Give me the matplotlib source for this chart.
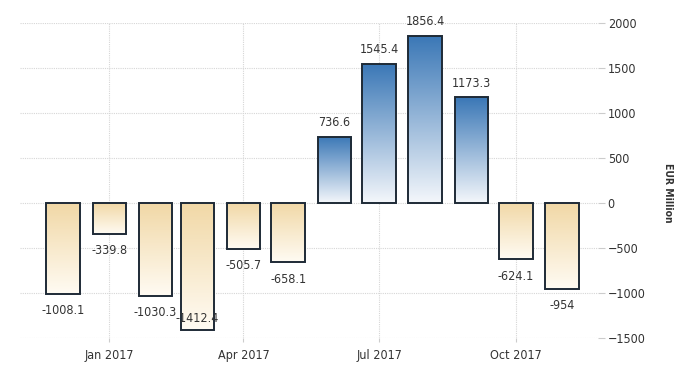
import numpy as np
import matplotlib
matplotlib.use("Agg")
import matplotlib.pyplot as plt
import matplotlib.dates as mdates
from matplotlib.colors import LinearSegmentedColormap
import datetime as dt

plt.rcParams['font.family'] = ['DejaVu Sans']
plt.rcParams['font.stretch'] = 'condensed'

# data
months = ["2016-12", "2017-01", "2017-02", "2017-03", "2017-04", "2017-05",
          "2017-06", "2017-07", "2017-08", "2017-09", "2017-10", "2017-11"]
values = [-1008.1, -339.8, -1030.3, -1412.4, -505.7, -658.1,
          736.6, 1545.4, 1856.4, 1173.3, -624.1, -954]
tick_months = ["2017-01", "2017-04", "2017-07", "2017-10"]
tick_labels = ["Jan 2017", "Apr 2017", "Jul 2017", "Oct 2017"]

dates = [dt.datetime.strptime(m, "%Y-%m") for m in months]
x = mdates.date2num(dates)

fig = plt.figure(figsize=(7, 3.75), dpi=100)
ax = fig.add_axes([0.0286, 0.0987, 0.8257, 0.84])

text_c = "#333333"
blue = LinearSegmentedColormap.from_list("b", ["#f4f7fb", "#3a77b6"])
tan = LinearSegmentedColormap.from_list("t", ["#fffbf3", "#f1d8a6"])

width = 22.5
bars = ax.bar(x, values, width=width, color="none", edgecolor="#1e2a36",
              linewidth=1.4, zorder=3)

# gradient fill clipped to each bar
grad = np.linspace(0, 1, 256).reshape(-1, 1)
for b, v in zip(bars, values):
    x0 = b.get_x()
    x1 = x0 + b.get_width()
    if v >= 0:
        im = ax.imshow(grad, cmap=blue, aspect="auto", origin="lower",
                       extent=[x0, x1, 0, v], zorder=2)
    else:
        im = ax.imshow(grad, cmap=tan, aspect="auto", origin="lower",
                       extent=[x0, x1, v, 0], zorder=2)
    im.set_clip_path(b)

for xi, v in zip(x, values):
    lab = f"{v:g}"
    if v >= 0:
        ax.text(xi, v + 155, lab, ha="center", va="center", fontsize=9,
                color=text_c, zorder=4)
    else:
        yl = max(v - 189, -1280)
        ax.text(xi, yl, lab, ha="center", va="center", fontsize=9,
                color=text_c, zorder=4)

ax.set_xlim(mdates.date2num(dt.datetime(2016, 11, 2)),
            mdates.date2num(dt.datetime(2017, 11, 25)))
ax.set_ylim(-1500, 2000)
ax.set_yticks(np.arange(-1500, 2001, 500))
ax.yaxis.tick_right()
ax.yaxis.set_label_position("right")
ax.tick_params(axis="y", length=5, color="#cccccc", labelsize=9,
               labelcolor=text_c, pad=2)
ax.set_xticks(mdates.date2num([dt.datetime.strptime(m, "%Y-%m") for m in tick_months]))
ax.set_xticklabels(tick_labels)
ax.tick_params(axis="x", length=3, color="#cccccc", labelsize=9,
               labelcolor=text_c, pad=5)

ax.set_ylabel("EUR Million", rotation=270, fontsize=7.5, color=text_c,
              fontweight="bold")
ax.yaxis.set_label_coords(1.13, 0.46)

ax.grid(True, color="#d6d6d6", linestyle=(0, (1, 1)), linewidth=0.8, zorder=0)
for s in ax.spines.values():
    s.set_visible(False)

fig.savefig("out.png", dpi=100)
